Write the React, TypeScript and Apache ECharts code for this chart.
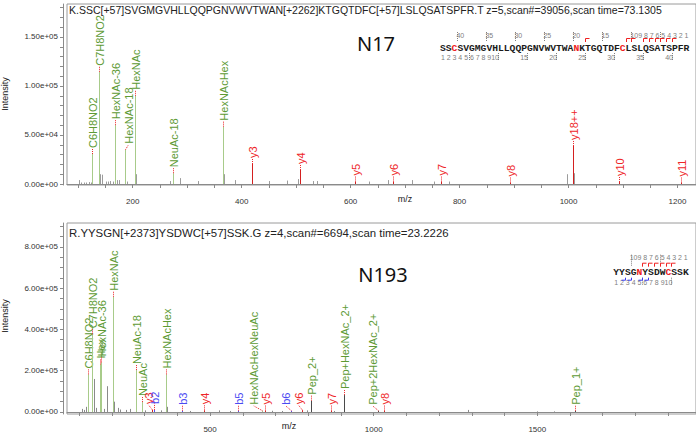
import React, { useEffect, useRef } from 'react';
import * as echarts from 'echarts';

// ---------- Top spectrum (N17) ----------
const topTitle = 'K.SSC[+57]SVGMGVHLLQQPGNVWVTWAN[+2262]KTGQTDFC[+57]LSLQSATSPFR.T z=5,scan#=39056,scan time=73.1305';
const topGlycoNames = ['C6H8NO2', 'C7H8NO2', 'HexNAc-36', 'HexNAc-18', 'HexNAc', 'NeuAc-18', 'HexNAcHex'];
const topGlycoMz = [126.05, 138.06, 168.07, 186.08, 204.09, 274.09, 366.14];
const topGlycoInt = [30600, 114500, 60000, 35000, 90000, 11000, 58500];
const topYNames = ['y3', 'y4', 'y5', 'y6', 'y7', 'y8', 'y18++', 'y10', 'y11'];
const topYMz = [419.24, 506.27, 607.32, 678.36, 765.39, 893.45, 1008.48, 1093.56, 1206.65];
const topYInt = [20400, 14300, 2500, 2500, 2500, 1500, 38800, 2000, 1500];
const topOtherMz = [101, 105, 110, 115, 120, 124, 140, 144, 151, 154, 158, 163, 171, 175, 190, 206, 269, 287, 319, 368, 388, 450, 484, 503, 531, 538, 633, 668, 712, 753, 781, 998, 1009.5];
const topOtherInt = [4000, 1500, 1500, 1500, 2000, 1500, 10000, 9500, 2500, 2500, 3000, 2500, 4000, 4000, 2500, 10000, 3000, 6000, 3000, 10000, 4000, 3000, 3500, 5000, 3000, 3000, 2500, 4000, 4000, 2500, 2500, 10000, 11000];
const topXLabels = [200, 400, 600, 800, 1000, 1200];
const topYLabels = [0, 50000, 100000, 150000];
const topSeq = 'SSCSVGMGVHLLQQPGNVWVTWANKTGQTDFCLSLQSATSPFR';
const topSeqRed = [2, 23, 31];
const topSeqYMatched = [3, 4, 5, 6, 7, 8, 10, 11, 18];
const topSeqBMatched: number[] = [];

// ---------- Bottom spectrum (N193) ----------
const botTitle = 'R.YYSGN[+2373]YSDWC[+57]SSK.G z=4,scan#=6694,scan time=23.2226';
const botGlycoNames = ['C6H8NO2', 'C7H8NO2', 'Hex', 'HexNAc-36', 'HexNAc', 'NeuAc-18', 'NeuAc', 'HexNAcHex', 'HexNAcHexNeuAc', 'Pep_2+', 'Pep+HexNAc_2+', 'Pep+2HexNAc_2+', 'Pep_1+'];
const botGlycoMz = [126.05, 138.06, 163.06, 168.07, 204.09, 274.09, 292.10, 366.14, 657.24, 808.82, 910.36, 1011.90, 1616.63];
const botGlycoInt = [182000, 376000, 230000, 240000, 558000, 203000, 48000, 182000, 6000, 55000, 82000, 6000, 6000];
const botYNames = ['y3', 'y4', 'y5', 'y6', 'y7', 'y8'];
const botYMz = [321.17, 481.20, 667.28, 782.31, 869.34, 1032.40];
const botYInt = [10000, 8000, 7000, 9000, 7000, 7000];
const botBNames = ['b2', 'b3', 'b5', 'b6'];
const botBMz = [327.14, 414.17, 585.23, 748.30];
const botBInt = [10000, 6000, 6000, 6000];
const botOtherMz = [110, 115, 120.5, 127.6, 144.8, 150, 175, 185.3, 206.7, 219, 226, 244, 256, 300, 350, 368, 440, 528, 560, 690, 720, 795, 880, 1289, 1500, 1551];
const botOtherInt = [15000, 10000, 25000, 100000, 160000, 20000, 15000, 125000, 50000, 20000, 12000, 10000, 15000, 8000, 8000, 25000, 5000, 8000, 5000, 6000, 5000, 8000, 5000, 10000, 3000, 3000];
const botXLabels = [500, 1000, 1500];
const botYLabels = [0, 200000, 400000, 600000, 800000];
const botSeq = 'YYSGNYSDWCSSK';
const botSeqRed = [4, 9];
const botSeqYMatched = [3, 4, 5, 6, 7, 8];
const botSeqBMatched = [2, 3, 5, 6];

// label nudges (px) to avoid overlaps
const topNudge: Record<string, number> = { 'HexNAc-18': 3 };
const botNudge: Record<string, number> = { 'HexNAcHexNeuAc': -9, 'b6': -6, 'y6': -4, 'Pep+2HexNAc_2+': -6, 'y3': -4 };

const GREEN_TXT = '#5d9a34';
const GREEN_LINE = '#a8cb8a';
const RED = '#ee2528';
const RED_LINE = '#d42020';
const BLUE = '#4b4bf2';
const GREY = '#9c9c9c';
const LABEL_FONT = '11px "Liberation Sans", Arial, sans-serif';

function fmtExp(v: number) {
  const [m, e] = v.toExponential(2).split('e');
  return `${m}e${e[0]}${e.slice(1).padStart(2, '0')}`;
}

function range(a: number, b: number, step: number) {
  const out: number[] = [];
  for (let v = a; v <= b + 1e-9; v += step) out.push(v);
  return out;
}

function peakSeries(
  idx: number,
  mz: number[],
  inten: number[],
  names: string[] | null,
  lineColor: (n: string) => string,
  labelColor: string,
  nudge: Record<string, number>,
  z: number
) {
  return {
    type: 'custom',
    xAxisIndex: idx,
    yAxisIndex: idx,
    z,
    silent: true,
    data: mz.map((m, i) => [m, inten[i]]),
    encode: { x: 0, y: 1 },
    renderItem: (params: any, api: any) => {
      const i = params.dataIndex;
      const m = api.value(0);
      const v = api.value(1);
      const b = api.coord([m, 0]);
      const t = api.coord([m, v]);
      const x = Math.round(b[0]) + 0.5;
      const name = names ? names[i] : '';
      const children: any[] = [
        { type: 'line', shape: { x1: x, y1: b[1], x2: x, y2: t[1] }, style: { stroke: lineColor(name), lineWidth: 1 } },
      ];
      if (names) {
        const dx = nudge[name] || 0;
        children.push({
          type: 'line',
          shape: { x1: x, y1: t[1], x2: x + dx, y2: t[1] - 5 },
          style: { stroke: RED, lineWidth: 1, lineDash: [1, 1] },
        });
        children.push({
          type: 'text',
          x: x + dx,
          y: t[1] - 6,
          rotation: Math.PI / 2,
          style: { text: name, fill: labelColor, font: LABEL_FONT, align: 'left', verticalAlign: 'middle' },
        });
      }
      return { type: 'group', children };
    },
  };
}

function seqGraphics(
  seq: string,
  red: number[],
  x0: number,
  yMid: number,
  upperNums: number[],
  lowerNums: number[],
  yMatched: number[],
  bMatched: number[],
  upOff: number,
  lowOff: number
) {
  const w = 5.8;
  const n = seq.length;
  const els: any[] = [];
  seq.split('').forEach((c, i) => {
    els.push({
      type: 'text',
      x: x0 + (i + 0.5) * w,
      y: yMid,
      style: {
        text: c,
        fill: red.includes(i) ? '#f02020' : '#1a1a1a',
        font: 'bold 9.7px "Liberation Mono", "Courier New", monospace',
        align: 'center',
        verticalAlign: 'middle',
      },
    });
  });
  const numFont = '7px "Liberation Sans", Arial, sans-serif';
  upperNums.forEach((k) => {
    const bx = x0 + (n - k) * w;
    els.push({ type: 'text', x: bx + w / 2, y: yMid + upOff, style: { text: String(k), fill: '#808080', font: numFont, align: 'center', verticalAlign: 'middle' } });
    if (k % 5 === 0) {
      els.push({ type: 'line', shape: { x1: Math.round(bx) + 0.5, y1: yMid + upOff - 3, x2: Math.round(bx) + 0.5, y2: yMid - 6 }, style: { stroke: '#808080', lineWidth: 1, lineDash: [1, 1] } });
    }
  });
  lowerNums.forEach((k) => {
    const bx = x0 + k * w;
    els.push({ type: 'text', x: bx - w / 2, y: yMid + lowOff, style: { text: String(k), fill: '#808080', font: numFont, align: 'center', verticalAlign: 'middle' } });
    if (k % 5 === 0) {
      els.push({ type: 'line', shape: { x1: Math.round(bx) + 0.5, y1: yMid + 5, x2: Math.round(bx) + 0.5, y2: yMid + lowOff + 3 }, style: { stroke: '#808080', lineWidth: 1, lineDash: [1, 1] } });
    }
  });
  yMatched.forEach((k) => {
    const bx = Math.round(x0 + (n - k) * w) + 0.5;
    els.push({ type: 'polyline', shape: { points: [[bx, yMid - 6], [bx, yMid - 9.5], [bx + 4, yMid - 9.5]] }, style: { stroke: '#f02020', lineWidth: 1, fill: null } });
  });
  bMatched.forEach((k) => {
    const bx = Math.round(x0 + k * w) + 0.5;
    els.push({ type: 'polyline', shape: { points: [[bx, yMid + 5], [bx, yMid + 7.5], [bx - 4, yMid + 7.5]] }, style: { stroke: '#3a3af0', lineWidth: 1, fill: null } });
  });
  return els;
}

function xAxisCfg(idx: number, min: number, max: number, ticks: number[], labels: number[], margin: number) {
  return {
    type: 'value',
    gridIndex: idx,
    min,
    max,
    offset: 3,
    axisLine: { show: true, lineStyle: { color: '#8a8a8a', width: 1 } },
    axisTick: { show: true, customValues: ticks, length: 4, lineStyle: { color: '#8a8a8a' } },
    axisLabel: {
      customValues: labels,
      fontSize: 8,
      color: '#333',
      fontFamily: '"Liberation Sans", Arial, sans-serif',
      margin,
      formatter: (v: number) => String(v),
    },
    splitLine: { show: false },
  };
}

function yAxisCfg(idx: number, min: number, max: number, ticks: number[], labels: number[]) {
  return {
    type: 'value',
    gridIndex: idx,
    min,
    max,
    offset: 4,
    axisLine: { show: true, lineStyle: { color: '#8a8a8a', width: 1 } },
    axisTick: { show: true, customValues: ticks, length: 3, lineStyle: { color: '#8a8a8a' } },
    axisLabel: {
      customValues: labels,
      fontSize: 8,
      color: '#333',
      fontFamily: '"Liberation Sans", Arial, sans-serif',
      margin: 5,
      formatter: (v: number) => fmtExp(v),
    },
    splitLine: { show: false },
  };
}

export default function App() {
  const ref = useRef<HTMLDivElement>(null);
  useEffect(() => {
    if (!ref.current) return;
    const chart = echarts.init(ref.current, undefined, { renderer: 'svg' });
    const greenLine = (n: string) => (n.startsWith('Pep') ? '#4a4a4a' : GREEN_LINE);
    const option: any = {
      animation: false,
      backgroundColor: '#ffffff',
      grid: [
        { left: 67, top: 4, width: 632, height: 181, show: true, borderColor: '#9a9a9a', borderWidth: 1, backgroundColor: 'transparent' },
        { left: 67, top: 223, width: 632, height: 191, show: true, borderColor: '#9a9a9a', borderWidth: 1, backgroundColor: 'transparent' },
      ],
      xAxis: [
        xAxisCfg(0, 79.3, 1234, range(100, 1200, 50), topXLabels, 9),
        xAxisCfg(1, 62.7, 1985, range(100, 1900, 100), botXLabels, 8),
      ],
      yAxis: [
        yAxisCfg(0, -1020, 183670, range(0, 180000, 10000), topYLabels),
        yAxisCfg(1, -9690, 915300, range(0, 900000, 50000), botYLabels),
      ],
      series: [
        peakSeries(0, topOtherMz, topOtherInt, null, () => GREY, GREY, {}, 1),
        peakSeries(0, topGlycoMz, topGlycoInt, topGlycoNames, greenLine, GREEN_TXT, topNudge, 2),
        peakSeries(0, topYMz, topYInt, topYNames, () => RED_LINE, RED, topNudge, 3),
        peakSeries(1, botOtherMz, botOtherInt, null, () => '#8a8a8a', GREY, {}, 1),
        peakSeries(1, botGlycoMz, botGlycoInt, botGlycoNames, greenLine, GREEN_TXT, botNudge, 2),
        peakSeries(1, botYMz, botYInt, botYNames, () => RED_LINE, RED, botNudge, 3),
        peakSeries(1, botBMz, botBInt, botBNames, () => BLUE, BLUE, botNudge, 3),
      ],
      graphic: [
        { type: 'text', x: 69, y: 10, style: { text: topTitle, fill: '#222', font: '10.5px "Liberation Sans", Arial, sans-serif', align: 'left', verticalAlign: 'middle' } },
        { type: 'text', x: 69, y: 233, style: { text: botTitle, fill: '#222', font: '11.4px "Liberation Sans", Arial, sans-serif', align: 'left', verticalAlign: 'middle' } },
        { type: 'text', x: 376, y: 43, style: { text: 'N17', fill: '#111', font: '20px "Noto Sans", sans-serif', align: 'center', verticalAlign: 'middle' } },
        { type: 'text', x: 383, y: 274, style: { text: 'N193', fill: '#111', font: '20px "Noto Sans", sans-serif', align: 'center', verticalAlign: 'middle' } },
        { type: 'text', x: 5, y: 94, rotation: Math.PI / 2, style: { text: 'Intensity', fill: '#222', font: '9px "Liberation Sans", Arial, sans-serif', align: 'center', verticalAlign: 'middle' } },
        { type: 'text', x: 5, y: 316, rotation: Math.PI / 2, style: { text: 'Intensity', fill: '#222', font: '9px "Liberation Sans", Arial, sans-serif', align: 'center', verticalAlign: 'middle' } },
        { type: 'text', x: 405, y: 199, style: { text: 'm/z', fill: '#222', font: '9px "Liberation Sans", Arial, sans-serif', align: 'center', verticalAlign: 'middle' } },
        { type: 'text', x: 289, y: 426, style: { text: 'm/z', fill: '#222', font: '9px "Liberation Sans", Arial, sans-serif', align: 'center', verticalAlign: 'middle' } },
        ...seqGraphics(topSeq, topSeqRed, 440, 48, [1, 2, 3, 4, 5, 6, 7, 8, 9, 10, 15, 20, 25, 30, 35, 40], [1, 2, 3, 4, 5, 6, 7, 8, 9, 10, 15, 20, 25, 30, 35, 40], topSeqYMatched, topSeqBMatched, -13, 9.5),
        ...seqGraphics(botSeq, botSeqRed, 613.3, 272.7, [1, 2, 3, 4, 5, 6, 7, 8, 9, 10], [1, 2, 3, 4, 5, 6, 7, 8, 9, 10], botSeqYMatched, botSeqBMatched, -15, 10),
      ],
    };
    chart.setOption(option);
    return () => chart.dispose();
  }, []);
  return <div ref={ref} style={{ position: 'fixed', left: 0, top: 0, width: 696, height: 433, background: '#fff' }} />;
}
